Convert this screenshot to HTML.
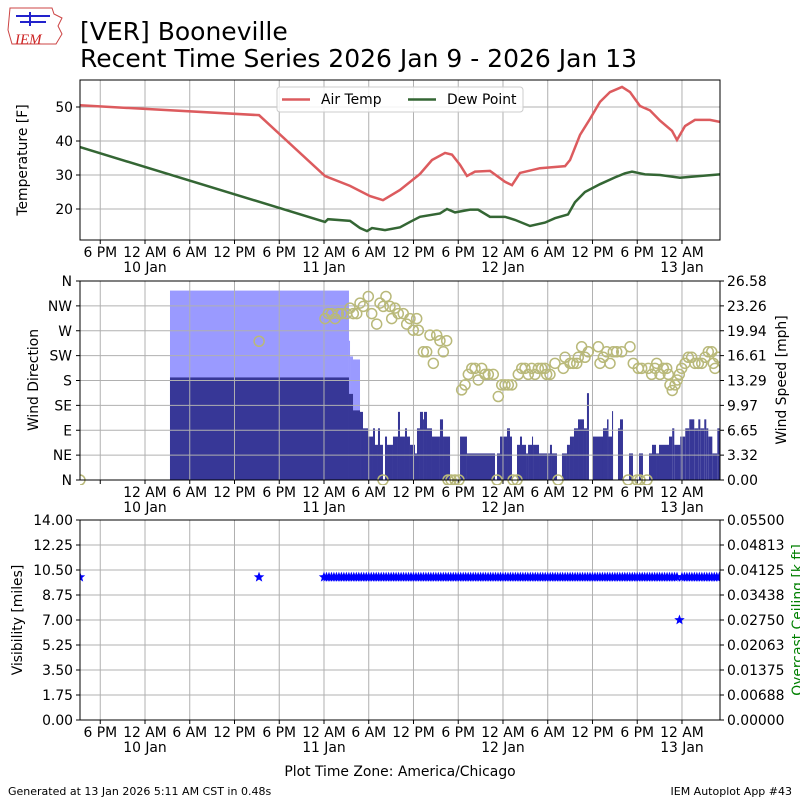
<!DOCTYPE html>
<html><head><meta charset="utf-8">
<style>
html,body{margin:0;padding:0;background:#fff;}
svg{display:block;font-family:"DejaVu Sans","Liberation Sans",sans-serif;}
</style></head>
<body>
<svg id="chart" width="800" height="800" viewBox="0 0 800 800" xmlns="http://www.w3.org/2000/svg">
<g>
  <path d="M10 8 L52 8 L54 14 L62 18 L58 26 L62 34 L56 44 L12 44 L8 30 Z" fill="#fff" stroke="#c44" stroke-width="1"/>
  <path d="M16 16 L50 16 M30 12 L30 26 M20 22 L46 22" stroke="#22c" stroke-width="2" fill="none"/>
  <text x="15" y="44" font-family="Liberation Serif,serif" font-style="italic" font-size="15" fill="#c22">IEM</text>
</g>
<text x="80" y="40" font-size="25" fill="#000">[VER] Booneville</text>
<text x="80" y="67" font-size="25" fill="#000">Recent Time Series 2026 Jan 9 - 2026 Jan 13</text>
<g id="p1"></g>
<g id="p2"></g>
<g id="p3"></g>
<text x="400" y="776" font-size="13.9" text-anchor="middle">Plot Time Zone: America/Chicago</text>
<text x="8" y="795" font-size="11">Generated at 13 Jan 2026 5:11 AM CST in 0.48s</text>
<text x="792" y="795" font-size="11" text-anchor="end">IEM Autoplot App #43</text>
</svg>
<script>
// ---- data (hours since 2026-01-09 00:00 CST) ----
const tempTimes=[15.28,39.29,48.14,51.49,54.17,55.91,58.19,60.87,62.48,64.23,65.16,66.24,67.17,68.25,70.26,72.27,73.21,74.28,76.96,80.32,80.99,82.33,83.67,85.01,86.35,87.96,89.03,90.37,91.71,93.05,94.66,95.33,96.41,97.74,99.75,101.1];
const tempVals=[50.5,47.6,29.7,26.8,23.8,22.6,25.6,30.3,34.4,36.5,36,33,29.7,31,31.2,28,27,30.6,32,32.6,34.4,41.8,46.5,51.5,54.4,55.9,54.4,50.3,49,46,43,40.3,44.4,46.2,46.2,45.6];
const dewTimes=[15.28,48.14,48.54,51.49,52.83,53.77,54.44,56.18,58.19,59.53,60.87,63.55,64.49,65.57,67.58,68.65,70.26,72.27,73.61,75.62,77.63,78.97,80.72,81.65,82.99,85.01,87.02,88.36,89.3,91.04,93.05,95.73,98.42,101.1];
const dewVals=[38.2,16.2,17,16.5,14.4,13.5,14.4,13.8,14.6,16.2,17.7,18.7,20,19,19.8,19.8,17.7,17.7,16.8,15,16,17.3,18.4,22,25,27.3,29.3,30.5,31,30.2,30,29.2,29.7,30.2];
const spdTimes=[27.35,51.35,51.89,52.83,53.23,53.9,54.57,54.84,55.24,55.51,55.91,56.18,56.45,57.25,57.92,58.19,58.86,59.13,59.53,60.2,60.47,60.87,61.28,61.41,61.81,62.48,63.55,63.96,64.9,66.24,67.17,70.93,71.2,71.6,72.54,72.94,73.21,73.88,74.28,74.55,75.09,75.36,75.89,76.03,76.83,78.3,78.57,79.24,79.91,80.58,80.98,81.52,82.06,82.86,83.26,83.53,84.07,85.41,85.95,86.15,86.62,86.76,87.42,87.69,88.09,88.9,89.43,90.24,90.77,91.58,91.98,92.52,92.92,94.26,94.69,94.97,95.77,96.44,96.98,97.65,98.19,98.46,98.99,99.26,99.53,100.07,100.74,101.1];
const spdVals=[13.7,11.5,9.3,9.1,6.9,5.8,6.9,4.7,6.9,4.7,0,5.8,4.7,5.8,9.1,5.8,6.9,5.8,4.7,3.55,6.9,9.1,8.1,9.1,6.9,5.8,8.1,5.8,0,5.8,3.55,0,3.55,5.8,6.9,5.8,0,4.7,5.8,4.7,3.55,4.7,5.8,4.7,3.55,4.7,3.55,0,3.55,4.7,5.8,6.9,8.1,6.9,11.6,0,5.8,6.9,8.1,5.8,9.2,0,6.9,8.1,0,3.55,0,3.55,0,3.55,4.7,3.55,4.7,5.8,6.9,4.7,5.8,6.9,8.1,6.9,8.1,6.9,8.1,6.9,5.8,3.55,6.9,0];
const gustTimes=[27.35,51.35,51.49,51.89,52.83];
const gustVals=[25.3,18.6,16.5,16.1,0];
const dirTimes=[39.3,48.14,48.58,49.03,49.48,49.92,50.37,51.04,51.49,51.93,52.39,52.83,53.27,53.94,54.40,55.07,55.51,55.95,56.31,56.85,57.08,57.52,57.96,58.63,59.09,59.53,59.97,60.43,60.65,61.32,61.77,62.21,62.66,63.11,63.55,64.0,64.45,
66.46,66.91,67.35,67.81,68.25,68.69,69.15,69.59,70.03,70.70,71.37,71.83,72.27,72.71,73.17,74.05,74.51,74.95,75.39,75.85,76.29,76.74,77.19,77.63,77.86,78.30,78.97,80.09,80.32,80.99,81.43,81.89,82.10,82.55,83.0,83.44,84.78,85.01,85.45,85.91,86.35,86.79,87.25,87.92,89.03,89.47,90.14,90.60,91.48,91.94,92.38,92.61,93.05,93.50,93.95,94.17,94.39,94.70,95.07,95.37,95.64,95.96,96.41,96.85,97.30,97.74,98.19,98.65,99.09,99.53,99.99,100.20,100.43,100.87];
const dirVals=[251,292,301,301,292,301,301,301,311,301,301,320,314,332,301,282,320,314,332,314,292,311,301,301,282,292,271,292,271,232,232,262,211,262,252,232,252,
163,172,191,202,202,181,202,191,191,191,151,172,172,172,172,191,202,202,191,202,191,202,202,202,191,191,211,202,222,211,211,211,222,241,222,232,241,211,222,232,211,232,232,232,241,211,202,202,202,191,202,211,191,202,202,191,172,162,172,181,191,202,211,222,222,211,211,211,222,232,232,211,202,222];
const calmTimes=[15.28,55.91,64.63,65.03,65.57,66.1,71.2,73.35,73.88,79.38,88.77,89.97,90.37,91.31];
const visTimes=[15.28,39.29];
const visVals=[10,10];
const visExceptTimes=[95.5];
const visExceptVals=[7];
const tempTicks=[20,30,40,50];
const dirLabels=["N","NE","E","SE","S","SW","W","NW","N"];
const spdTickLabels=["0.00","3.32","6.65","9.97","13.29","16.61","19.94","23.26","26.58"];
const visTickLabels=["0.00","1.75","3.50","5.25","7.00","8.75","10.50","12.25","14.00"];
const ceilTickLabels=["0.00000","0.00688","0.01375","0.02063","0.02750","0.03438","0.04125","0.04813","0.05500"];
const tickHours=[18,24,30,36,42,48,54,60,66,72,78,84,90,96];
const tickNames=["6 PM","12 AM","6 AM","12 PM","6 PM","12 AM","6 AM","12 PM","6 PM","12 AM","6 AM","12 PM","6 PM","12 AM"];
const tickDates=["","10 Jan","","","","11 Jan","","","","12 Jan","","","","13 Jan"];

// regular 20-minute observations from 48.0 h onward
const usedEx=new Set();
for(let h=48.0;h<=101.0;h+=1/3){
  const ex=visExceptTimes.findIndex((t,k)=>!usedEx.has(k)&&Math.abs(t-h)<=1/6);
  if(ex>=0)usedEx.add(ex);
  visTimes.push(h); visVals.push(ex>=0?visExceptVals[ex]:10);
}

// ---- scales ----
const NS="http://www.w3.org/2000/svg";
const L=80,R=720,FS=13.9;
const X=h=>145+(h-24)*7.458;
const Y1=t=>107+(50-t)*3.4;
const YD=d=>480-d/360*199;
const YS=s=>480-s/26.58*199;
const YV=v=>720-v/14*200;
function mk(parent,tag,attrs){const e=document.createElementNS(NS,tag);for(const k in attrs)e.setAttribute(k,attrs[k]);parent.appendChild(e);return e;}
function txt(parent,x,y,s,anchor,extra){const t=mk(parent,"text",Object.assign({x:x,y:y,"font-size":FS,"text-anchor":anchor||"start"},extra||{}));t.textContent=s;return t;}
function clip(id,top,bot){const d=mk(document.getElementById("chart"),"clipPath",{id:id});mk(d,"rect",{x:L,y:top,width:R-L,height:bot-top});}

function xaxis(g,top,bot,skipFirst){
  tickHours.forEach((h,i)=>{
    const x=X(h);
    const gl=mk(g,"line",{x1:x,x2:x,y1:top,y2:bot,stroke:"#b0b0b0","stroke-width":1});
    
    
    mk(g,"line",{x1:x,x2:x,y1:bot,y2:bot+4,stroke:"#000"});
    if(skipFirst&&i===0)return;
    const t=txt(g,x,bot+17,tickNames[i],"middle");
    
    
    if(tickDates[i]){const d=txt(g,x,bot+32,tickDates[i],"middle");
      
      }
  });
}
function frame(g,top,bot){
  mk(g,"rect",{x:L,y:top,width:R-L,height:bot-top,fill:"none",stroke:"#000","stroke-width":1});
}

// ---- Panel 1 ----
(function(){
  const g=document.getElementById("p1");clip("c1",80,240);
  xaxis(g,80,240,false);
  tempTicks.forEach(t=>{const y=Y1(t);
    mk(g,"line",{x1:L,x2:R,y1:y,y2:y,stroke:"#b0b0b0"});
    mk(g,"line",{x1:L-4,x2:L,y1:y,y2:y,stroke:"#000"});
    const l=txt(g,L-7,y+5,String(t),"end");
    
    });
  const lt=txt(g,0,0,"Temperature [F]","middle",{transform:"translate(27,160) rotate(-90)"});
  
  
  const cg=mk(g,"g",{"clip-path":"url(#c1)"});
  const tl=mk(cg,"polyline",{points:tempTimes.map((h,i)=>X(h)+","+Y1(tempVals[i])).join(" "),fill:"none",stroke:"#dc5b5e","stroke-width":2.5});
  
  
  const dl=mk(cg,"polyline",{points:dewTimes.map((h,i)=>X(h)+","+Y1(dewVals[i])).join(" "),fill:"none",stroke:"#346634","stroke-width":2.5});
  
  
  frame(g,80,240);
  const lg=mk(g,"g",{});
  
  
  mk(lg,"rect",{x:277,y:87,width:246,height:25,rx:3,fill:"#fff","fill-opacity":0.85,stroke:"#ccc"});
  mk(lg,"line",{x1:282,x2:310,y1:99.5,y2:99.5,stroke:"#dc5b5e","stroke-width":2.5});
  txt(lg,321,104,"Air Temp");
  mk(lg,"line",{x1:408,x2:436,y1:99.5,y2:99.5,stroke:"#346634","stroke-width":2.5});
  txt(lg,447,104,"Dew Point");
})();

// ---- Panel 2 ----
(function(){
  const g=document.getElementById("p2");clip("c2",281,480);
  const cg=mk(g,"g",{"clip-path":"url(#c2)"});
  for(let i=0;i<gustTimes.length-1;i++){
    if(!gustVals[i])continue;
    const x0=X(gustTimes[i]),x1=X(gustTimes[i+1]);
    const b=mk(cg,"rect",{x:x0,y:YS(gustVals[i]),width:x1-x0,height:480-YS(gustVals[i]),fill:"#9a9aff"});
    
    
  }
  for(let i=0;i<spdTimes.length-1;i++){
    if(!spdVals[i])continue;
    const x0=X(spdTimes[i]),x1=X(spdTimes[i+1]);
    const b=mk(cg,"rect",{x:x0,y:YS(spdVals[i]),width:x1-x0,height:480-YS(spdVals[i]),fill:"#373797"});
    
    
  }
  xaxis(g,281,480,true);
  dirLabels.forEach((s,i)=>{const y=480-i*199/8;
    mk(g,"line",{x1:L,x2:R,y1:y,y2:y,stroke:"#b0b0b0"});
    mk(g,"line",{x1:L-4,x2:L,y1:y,y2:y,stroke:"#000"});
    mk(g,"line",{x1:R,x2:R+4,y1:y,y2:y,stroke:"#000"});
    const a=txt(g,L-8,y+5,s,"end");
    
    
    const b=txt(g,R+7,y+5,spdTickLabels[i],"start");
    
    });
  const t1=txt(g,0,0,"Wind Direction","middle",{transform:"translate(38,380) rotate(-90)"});
  
  
  const t2=txt(g,0,0,"Wind Speed [mph]","middle",{transform:"translate(786,380) rotate(-90)"});
  
  
  const d=mk(document.getElementById("chart"),"clipPath",{id:"c2b"});mk(d,"rect",{x:L,y:270,width:R-L,height:215});
  const cg2=mk(g,"g",{"clip-path":"url(#c2b)"});
  dirTimes.forEach((h,i)=>{
    const c=mk(cg2,"circle",{cx:X(h),cy:YD(dirVals[i]),r:5,fill:"none",stroke:"#b9b97a","stroke-width":1.5});
    
    });
  calmTimes.forEach(h=>{
    const c=mk(cg2,"circle",{cx:X(h),cy:YD(0),r:5,fill:"none",stroke:"#b9b97a","stroke-width":1.5});
    
    });
  frame(g,281,480);
})();

// ---- Panel 3 ----
(function(){
  const g=document.getElementById("p3");clip("c3",515,725);
  xaxis(g,520,720,false);
  visTickLabels.forEach((s,i)=>{const y=720-i*25;
    mk(g,"line",{x1:L,x2:R,y1:y,y2:y,stroke:"#b0b0b0"});
    mk(g,"line",{x1:L-4,x2:L,y1:y,y2:y,stroke:"#000"});
    mk(g,"line",{x1:R,x2:R+4,y1:y,y2:y,stroke:"#000"});
    const a=txt(g,L-7,y+5,s,"end");
    
    
    const b=txt(g,R+7,y+5,ceilTickLabels[i],"start");
    
    });
  const t1=txt(g,0,0,"Visibility [miles]","middle",{transform:"translate(22,620) rotate(-90)"});
  
  
  const t2=txt(g,0,0,"Overcast Ceiling [k ft]","middle",{transform:"translate(802,620) rotate(-90)",fill:"#008000"});
  
  
  const cg=mk(g,"g",{"clip-path":"url(#c3)"});
  function star(cx,cy,r){const p=[];for(let k=0;k<10;k++){const a=-Math.PI/2+k*Math.PI/5;const rr=k%2?r*0.42:r;p.push((cx+rr*Math.cos(a)).toFixed(1)+","+(cy+rr*Math.sin(a)).toFixed(1));}return p.join(" ");}
  visTimes.forEach((h,i)=>{
    const s=mk(cg,"polygon",{points:star(X(h),YV(visVals[i]),5.5),fill:"#0000ff"});
    
    });
  frame(g,520,720);
})();
</script>
</body></html>
